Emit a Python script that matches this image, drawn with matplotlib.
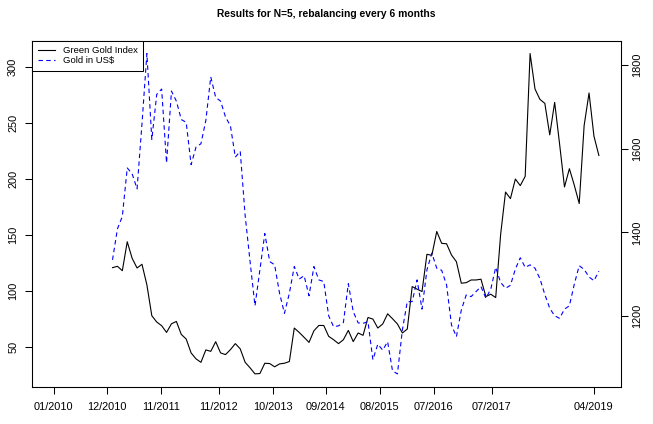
import numpy as np
import matplotlib
matplotlib.use("Agg")
import matplotlib.pyplot as plt

plt.rcParams['font.family'] = ['Liberation Sans', 'DejaVu Sans']

# monthly values, Jan 2011 onwards
green_gold = [120.5, 121.7, 117.8, 143.6, 128.8, 120.2, 123.5, 105.1, 77.6, 72.0,
              68.7, 62.7, 70.4, 72.5, 60.9, 56.8, 44.4, 39.1, 36.0, 47.1,
              45.8, 54.4, 44.4, 42.9, 47.3, 52.7, 48.0, 36.0, 31.1, 25.7,
              26.0, 35.2, 34.9, 32.0, 34.6, 35.2, 36.7, 66.6, 62.7, 58.3,
              53.8, 64.2, 68.9, 68.9, 59.2, 56.2, 52.7, 56.2, 64.5, 54.5,
              62.2, 60.1, 76.0, 74.6, 66.6, 70.2, 79.3, 74.9, 70.2, 62.2,
              65.7, 103.6, 101.3, 99.2, 132.4, 131.5, 152.8, 142.2, 141.8, 131.8,
              125.8, 106.6, 107.1, 109.5, 109.5, 110.2, 94.7, 96.8, 93.8, 150.0,
              188.0, 182.1, 199.6, 193.7, 202.0, 311.6, 279.9, 270.7, 267.1, 239.0,
              268.0, 231.0, 192.5, 208.8, 194.0, 177.7, 247.3, 276.4, 237.8, 220.6]

gold_usd = [1334, 1408, 1438, 1554, 1540, 1504, 1660, 1828, 1622, 1730,
            1743, 1566, 1738, 1714, 1670, 1663, 1562, 1604, 1612, 1668,
            1772, 1723, 1714, 1676, 1655, 1580, 1594, 1440, 1330, 1224,
            1310, 1397, 1330, 1322, 1254, 1206, 1254, 1318, 1288, 1296,
            1248, 1318, 1286, 1282, 1200, 1174, 1176, 1184, 1277, 1210,
            1183, 1182, 1186, 1095, 1132, 1118, 1138, 1068, 1061, 1166,
            1234, 1234, 1286, 1216, 1310, 1350, 1314, 1309, 1274, 1178,
            1150, 1214, 1250, 1246, 1258, 1270, 1242, 1264, 1316, 1280,
            1266, 1273, 1312, 1339, 1316, 1322, 1314, 1289, 1251, 1218,
            1200, 1194, 1216, 1224, 1276, 1320, 1311, 1293, 1284, 1307]

tick_labels = ['01/2010', '12/2010', '11/2011', '11/2012', '10/2013',
               '09/2014', '08/2015', '07/2016', '07/2017', '04/2019']
tick_pos = [-11.95, -1.10, 9.83, 21.64, 32.57, 43.42, 54.42, 65.35, 77.22, 97.99]

left_ticks = [50, 100, 150, 200, 250, 300]
right_ticks = [1200, 1400, 1600, 1800]

x = np.arange(len(green_gold))

fig = plt.figure(figsize=(6.53, 4.24), dpi=100)
ax = fig.add_axes([0.049, 0.088, 0.9015, 0.816])

l1, = ax.plot(x, green_gold, color='black', lw=0.8, label='Green Gold Index')
ax2 = ax.twinx()
l2, = ax2.plot(x, gold_usd, color='blue', lw=0.8, ls=(0, (4, 3)), label=r'Gold in US\$')

# R style 4% padding
ax.margins(y=0.04)
ax2.margins(y=0.04)
lo = min(min(tick_pos), x.min())
hi = max(max(tick_pos), x.max())
pad = 0.04 * (hi - lo)
ax.set_xlim(lo - pad, hi + pad)

ax.set_xticks(tick_pos, tick_labels)
ax.set_yticks(left_ticks)
ax2.set_yticks(right_ticks)

for a in (ax, ax2):
    for s in a.spines.values():
        s.set_linewidth(0.75)
    a.tick_params(direction='out', length=5, width=0.75, labelsize=7.9, colors='black')

ax.tick_params(axis='x', pad=6)
ax.tick_params(axis='y', pad=5)
ax2.tick_params(axis='y', pad=3.5)
plt.setp(ax.get_yticklabels(), rotation=90, va='center')
plt.setp(ax2.get_yticklabels(), rotation=90, va='center')

ax.set_title('Results for N=5, rebalancing every 6 months', fontsize=7.4,
             fontweight='bold', pad=16.8)

leg = ax2.legend([l1, l2], ['Green Gold Index', r'Gold in US\$'], loc='upper left',
                 borderaxespad=0, fancybox=False, edgecolor='black', framealpha=1,
                 fontsize=6.8, handlelength=1.85, handletextpad=0.8,
                 borderpad=0.6, labelspacing=0.1)
leg.get_frame().set_linewidth(0.75)

fig.savefig('out.png', dpi=100)
